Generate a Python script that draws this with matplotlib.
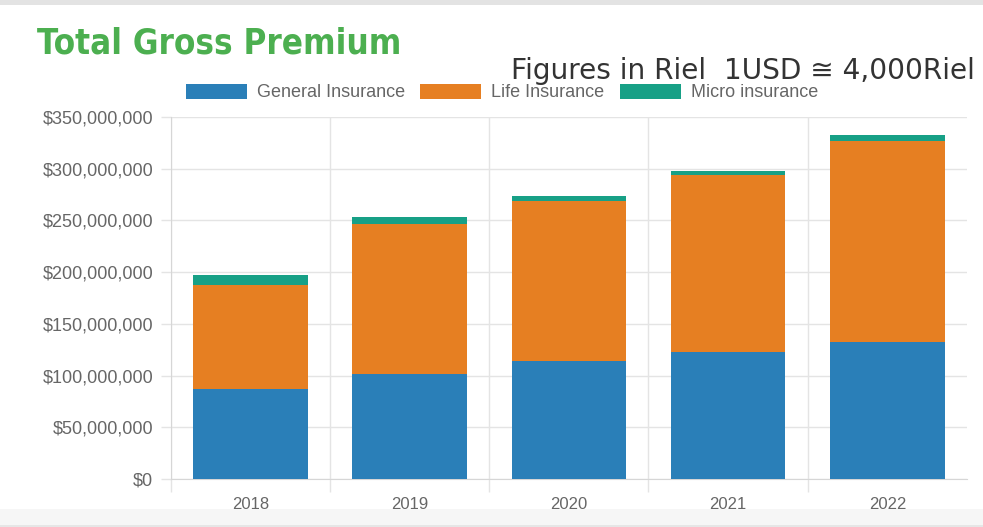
import matplotlib
matplotlib.use("Agg")
import matplotlib.pyplot as plt
from matplotlib.ticker import FuncFormatter, FixedLocator
from matplotlib.patches import Rectangle, Patch
import numpy as np

years = ["2018", "2019", "2020", "2021", "2022"]
general = [86.7e6, 101.5e6, 114.4e6, 122.8e6, 132.5e6]
life = [100.9e6, 144.8e6, 154.1e6, 170.8e6, 194.3e6]
micro = [9.4e6, 6.7e6, 4.8e6, 4.2e6, 5.5e6]
series_names = ["General Insurance", "Life Insurance", "Micro insurance"]
colors = ["#2a7fb8", "#e67f22", "#17a086"]
y_ticks = [0, 50e6, 100e6, 150e6, 200e6, 250e6, 300e6, 350e6]

label_font = "Liberation Sans"

W, H = 983, 527
fig = plt.figure(figsize=(W / 100, H / 100), dpi=100)
fig.patch.set_facecolor("white")

# background bands of the screenshot
fig.add_artist(Rectangle((0, 1 - 5 / H), 1, 5 / H, transform=fig.transFigure,
                         facecolor="#e3e3e3", edgecolor="none", zorder=0))
fig.add_artist(Rectangle((0, 0), 1, 18 / H, transform=fig.transFigure,
                         facecolor="#f6f6f6", edgecolor="none", zorder=0))
fig.add_artist(Rectangle((0, 0), 1, 2 / H, transform=fig.transFigure,
                         facecolor="#e6e6e6", edgecolor="none", zorder=0))

left, right = 170.7 / W, 967 / W
bottom, top = 1 - 479 / H, 1 - 117 / H
ax = fig.add_axes([left, bottom, right - left, top - bottom])
ax.set_facecolor("none")

x = np.arange(len(years))
w = 0.72
g = np.array(general)
l = np.array(life)
m = np.array(micro)
ax.bar(x, g, w, color=colors[0], zorder=3)
ax.bar(x, l, w, bottom=g, color=colors[1], zorder=3)
ax.bar(x, m, w, bottom=g + l, color=colors[2], zorder=3)

ax.set_xlim(-0.5, len(years) - 0.5)
ax.set_ylim(0, 350e6)

grid_c = "#e4e4e4"
ax.yaxis.set_major_locator(FixedLocator(y_ticks))
ax.yaxis.set_major_formatter(FuncFormatter(lambda v, p: "${:,.0f}".format(v)))
ax.set_xticks(x)
ax.set_xticklabels(years)
ax.xaxis.set_minor_locator(FixedLocator(np.arange(len(years)) - 0.5))

ax.tick_params(axis="y", which="major", length=7.5, width=1, color=grid_c,
               labelsize=13, labelcolor="#666666", pad=5)
ax.tick_params(axis="x", which="major", length=0, labelsize=12,
               labelcolor="#666666", pad=13)
ax.tick_params(axis="x", which="minor", length=9, width=1, color=grid_c)
for lab in ax.get_yticklabels() + ax.get_xticklabels():
    lab.set_fontfamily(label_font)

ax.grid(axis="y", which="major", color=grid_c, linewidth=1, zorder=0)
ax.grid(axis="x", which="minor", color=grid_c, linewidth=1, zorder=0)
for s in ["top", "right"]:
    ax.spines[s].set_visible(False)
ax.spines["left"].set_color("#d6d6d6")
ax.spines["bottom"].set_color("#d6d6d6")

# title
fig.text(37 / W, 1 - 54 / H, "Total Gross Premium", fontsize=25, fontweight="bold",
         color="#4caf50", family="DejaVu Sans", fontstretch="condensed",
         ha="left", va="baseline")

fig.text(975 / W, 1 - 79 / H, "Figures in Riel  1USD \u2245 4,000Riel",
         fontsize=20.2, color="#333333", family="DejaVu Sans", ha="right", va="baseline")

handles = [Patch(facecolor=c, edgecolor="none") for c in colors]
leg = fig.legend(handles, series_names, loc="center left",
                 bbox_to_anchor=(186 / W, 1 - 92.5 / H), ncol=3, frameon=False,
                 handlelength=3.38, handleheight=0.95, handletextpad=0.55,
                 columnspacing=0.85, borderpad=0, borderaxespad=0,
                 prop={"family": label_font, "size": 13})
for t in leg.get_texts():
    t.set_color("#666666")

fig.savefig("out.png", dpi=100)
